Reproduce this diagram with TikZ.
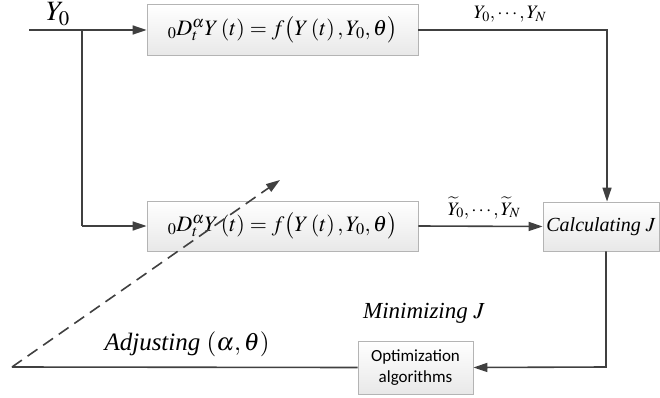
\documentclass[tikz,border=0pt]{standalone}
\usepackage{mathptmx}
\usepackage{fontspec}
\setmainfont{Liberation Serif}
\newfontfamily\carlito{Carlito}
\usetikzlibrary{arrows.meta}
\definecolor{linegray}{HTML}{404040}
\definecolor{boxgray}{HTML}{B4B4B4}
\tikzset{
  blk/.style={draw=boxgray, line width=0.8pt, top color=white, bottom color=black!9, inner sep=0pt, align=center},
  wire/.style={draw=linegray, line width=1.6pt},
  conn/.style={wire, -{Triangle[length=14pt,width=9pt]}},
  dconn/.style={conn, dash pattern=on 12pt off 7pt},
  lbl/.style={inner sep=0pt, text=black},
}
\begin{document}
\begin{tikzpicture}[x=1pt,y=-1pt]
\useasboundingbox (0,0) rectangle (660,398);
\node[blk, minimum width=271pt, minimum height=51pt, font=\fontsize{22}{26}\selectfont] (top) at (282.5,30)
  {${}_{0}D_{t}^{\alpha}Y\left(t\right)=f\big(Y\left(t\right),Y_0,\theta\big)$};
\node[blk, minimum width=271pt, minimum height=50pt, font=\fontsize{22}{26}\selectfont] (bot) at (282.5,226)
  {${}_{0}D_{t}^{\alpha}Y\left(t\right)=f\big(Y\left(t\right),Y_0,\theta\big)$};
\node[blk, minimum width=116pt, minimum height=49pt, font=\fontsize{20}{24}\selectfont\itshape] (calc) at (601,226.5)
  {Calculating $J$};
\node[blk, minimum width=115pt, minimum height=53pt, font=\fontsize{17}{21}\selectfont\carlito] (opt) at (415.5,367.5)
  {Optimization\\algorithms};

\coordinate (in) at (29,30);
\coordinate (br) at (82,30);
\coordinate (br2) at (82,226);
\coordinate (c1) at (607,30);
\coordinate (c2) at (606,367);
\coordinate (end) at (12,367);
\coordinate (tip) at (280,180);

\draw[conn] (in) -- (top.west);
\draw[wire] (br) -- (br2);
\draw[conn] (br2) -- (bot.west);
\draw[conn] (top.east) -- (c1) -- (c1 |- calc.north);
\draw[conn] (bot.east) -- (calc.west);
\draw[conn] (c2 |- calc.south) -- (c2) -- (opt.east);
\draw[wire] (opt.west) -- (end);
\draw[dconn] (end) -- (tip);

\node[lbl, font=\fontsize{28}{32}\selectfont] (y0) at (58,14) {$Y_0$};
\node[lbl, font=\fontsize{19}{23}\selectfont] (yn) at (510,14) {$Y_0,\cdots,Y_N$};
\node[lbl, font=\fontsize{19}{23}\selectfont] (yt) at (484,208) {$\widetilde{Y}_0,\cdots,\widetilde{Y}_N$};
\node[lbl, font=\fontsize{23}{27}\selectfont\itshape] (mj) at (424,313) {Minimizing $J$};
\node[lbl, font=\fontsize{25}{29}\selectfont\itshape] (adj) at (187,344) {Adjusting $(\alpha,\theta)$};
\end{tikzpicture}
\end{document}
